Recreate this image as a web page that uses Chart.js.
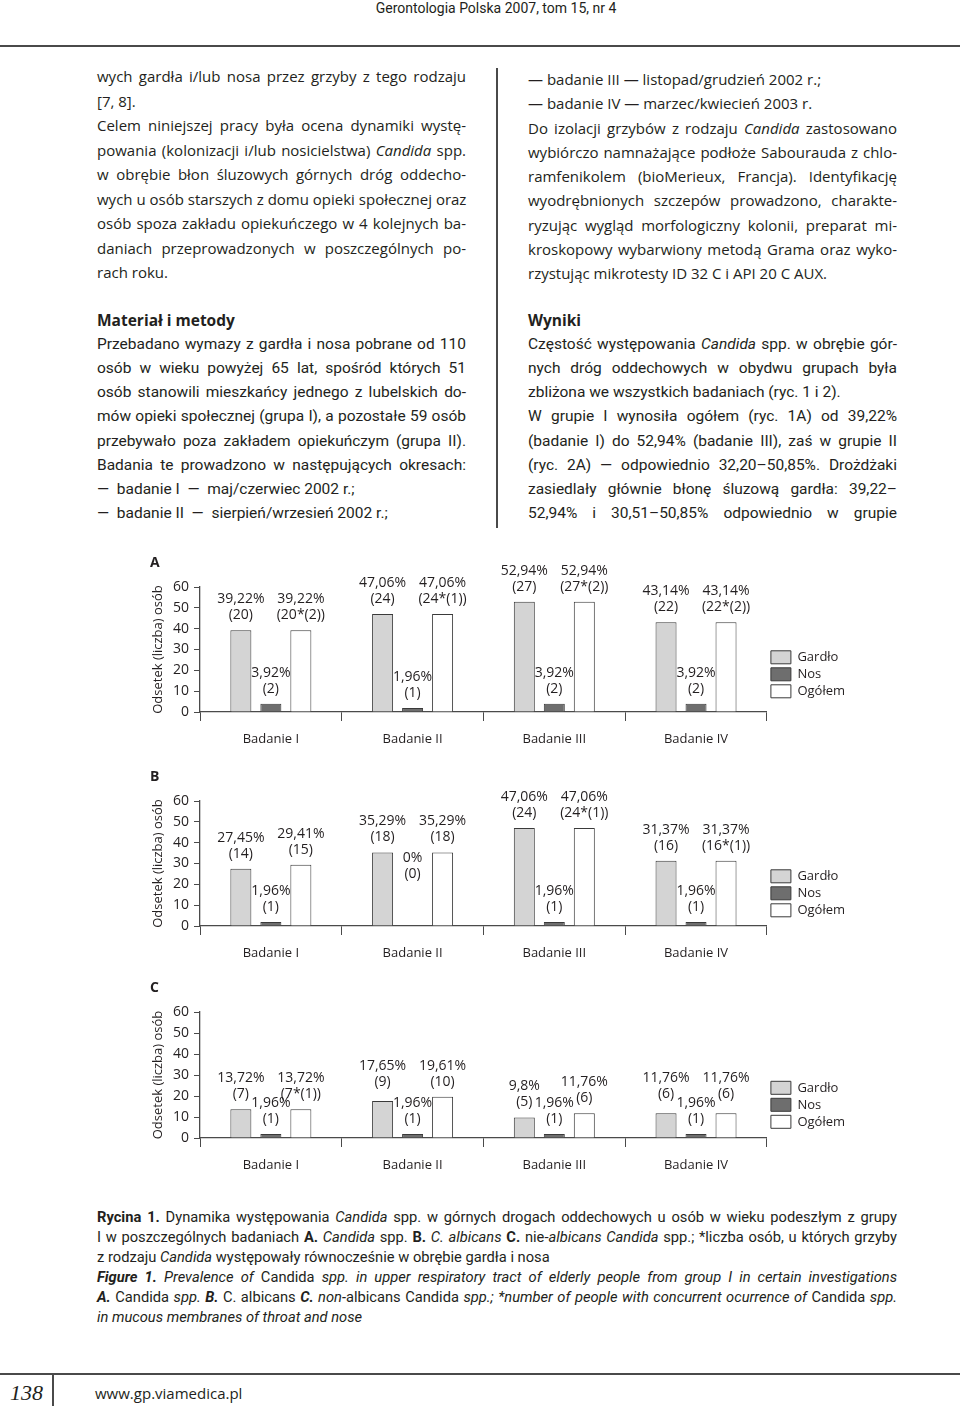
<!DOCTYPE html>
<html lang="pl">
<head>
<meta charset="utf-8">
<script src="https://cdn.jsdelivr.net/npm/chart.js@4.4.1/dist/chart.umd.min.js"></script>
<style>
  html, body { margin: 0; padding: 0; background: #fff; }
  body { width: 960px; height: 1410px; position: relative; overflow: hidden; color: #231f20; font-family: 'Open Sans', sans-serif; }
  .ln { position: absolute; white-space: nowrap; font-size: 15px; line-height: 20px; }
  .j { text-align: justify; text-align-last: justify; }
  .h { font-family: 'Open Sans', sans-serif; font-weight: 700; font-size: 15.5px; }
  .dol { font-family: Roboto, sans-serif; font-size: 15.5px; }
  .cap { font-family: Roboto, sans-serif; font-size: 14.7px; }
  canvas { position: absolute; left: 140px; }
  .rule { position: absolute; background: #4a4a4a; }
</style>
</head>
<body>
<div class="ln" style="left:0;width:992px;top:-2px;text-align:center;font-family:Roboto,sans-serif;font-size:14px;">Gerontologia Polska 2007, tom 15, nr 4</div>
<div class="rule" style="left:0;top:45px;width:960px;height:2px;"></div>
<div class="rule" style="left:496px;top:68px;width:1.5px;height:460px;"></div>
<div id="tekst"></div>

<canvas id="wykresA" width="716" height="211" style="top:548px"></canvas>
<canvas id="wykresB" width="716" height="211" style="top:762px"></canvas>
<canvas id="wykresC" width="716" height="212" style="top:973px"></canvas>

<div class="rule" style="left:0;top:1373px;width:960px;height:1.5px;"></div>
<div class="rule" style="left:52px;top:1374px;width:1.5px;height:32px;"></div>
<div class="ln" style="left:10px;top:1380px;font-family:'Liberation Serif',serif;font-style:italic;font-size:22px;line-height:26px;">138</div>
<div class="ln" style="left:95px;top:1383px;font-size:15px;">www.gp.viamedica.pl</div>

<script>
// ── Dane wykresów ───────────────────────────────────────────────
const badania = ['Badanie I', 'Badanie II', 'Badanie III', 'Badanie IV'];
const serie = ['Gardło', 'Nos', 'Ogółem'];
const osY = { min: 0, max: 60, krok: 10 };

// A. Candida spp.
const gardloA = [39.22, 47.06, 52.94, 43.14];
const nosA = [3.92, 1.96, 3.92, 3.92];
const ogolemA = [39.22, 47.06, 52.94, 43.14];
const gardloA_n = [20, 24, 27, 22];
const nosA_n = [2, 1, 2, 2];
const ogolemA_n = [20, 24, 27, 22];
const wspolneA = [2, 1, 2, 2];

// B. C. albicans
const gardloB = [27.45, 35.29, 47.06, 31.37];
const nosB = [1.96, 0, 1.96, 1.96];
const ogolemB = [29.41, 35.29, 47.06, 31.37];
const gardloB_n = [14, 18, 24, 16];
const nosB_n = [1, 0, 1, 1];
const ogolemB_n = [15, 18, 24, 16];
const wspolneB = [0, 0, 1, 1];

// C. nie-albicans Candida spp.
const gardloC = [13.72, 17.65, 9.8, 11.76];
const nosC = [1.96, 1.96, 1.96, 1.96];
const ogolemC = [13.72, 19.61, 11.76, 11.76];
const gardloC_n = [7, 9, 5, 6];
const nosC_n = [1, 1, 1, 1];
const ogolemC_n = [7, 10, 6, 6];
const wspolneC = [1, 0, 0, 0];

// ── Tekst strony ────────────────────────────────────────────────
const bloki = [
    { x: 97, w: 369, y: 76, krok: 24.5, linie: [
        ['wych gardła i/lub nosa przez grzyby z tego rodzaju', 1],
        ['[7, 8].', 0],
        ['Celem niniejszej pracy była ocena dynamiki wystę-', 1],
        ['powania (kolonizacji i/lub nosicielstwa) <i>Candida</i> spp.', 1],
        ['w obrębie błon śluzowych górnych dróg oddecho-', 1],
        ['wych u osób starszych z domu opieki społecznej oraz', 1],
        ['osób spoza zakładu opiekuńczego w 4 kolejnych ba-', 1],
        ['daniach przeprowadzonych w poszczególnych po-', 1],
        ['rach roku.', 0],
    ] },
    { x: 528, w: 369, y: 79, krok: 24.25, linie: [
        ['— badanie III — listopad/grudzień 2002 r.;', 0],
        ['— badanie IV — marzec/kwiecień 2003 r.', 0],
        ['Do izolacji grzybów z rodzaju <i>Candida</i> zastosowano', 1],
        ['wybiórczo namnażające podłoże Sabourauda z chlo-', 1],
        ['ramfenikolem (bioMerieux, Francja). Identyfikację', 1],
        ['wyodrębnionych szczepów prowadzono, charakte-', 1],
        ['ryzując wygląd morfologiczny kolonii, preparat mi-', 1],
        ['kroskopowy wybarwiony metodą Grama oraz wyko-', 1],
        ['rzystując mikrotesty ID 32 C i API 20 C AUX.', 0],
    ] },
    { x: 97, w: 369, y: 320, krok: 24.1, klasa: 'dol', linie: [
        ['<span class="h">Materiał i metody</span>', 0],
        ['Przebadano wymazy z gardła i nosa pobrane od 110', 1],
        ['osób w wieku powyżej 65 lat, spośród których 51', 1],
        ['osób stanowili mieszkańcy jednego z lubelskich do-', 1],
        ['mów opieki społecznej (grupa I), a pozostałe 59 osób', 1],
        ['przebywało poza zakładem opiekuńczym (grupa II).', 1],
        ['Badania te prowadzono w następujących okresach:', 1],
        ['—&nbsp; badanie I &nbsp;— &nbsp;maj/czerwiec 2002 r.;', 0],
        ['—&nbsp; badanie II &nbsp;— &nbsp;sierpień/wrzesień 2002 r.;', 0],
    ] },
    { x: 528, w: 369, y: 320, krok: 24.1, klasa: 'dol', linie: [
        ['<span class="h">Wyniki</span>', 0],
        ['Częstość występowania <i>Candida</i> spp. w obrębie gór-', 1],
        ['nych dróg oddechowych w obydwu grupach była', 1],
        ['zbliżona we wszystkich badaniach (ryc. 1 i 2).', 0],
        ['W grupie I wynosiła ogółem (ryc. 1A) od 39,22%', 1],
        ['(badanie I) do 52,94% (badanie III), zaś w grupie II', 1],
        ['(ryc. 2A) — odpowiednio 32,20–50,85%. Drożdżaki', 1],
        ['zasiedlały głównie błonę śluzową gardła: 39,22–', 1],
        ['52,94% i 30,51–50,85% odpowiednio w grupie', 1],
    ] },
    { x: 97, w: 800, y: 1217, krok: 20, klasa: 'cap', linie: [
        ['<b>Rycina 1.</b> Dynamika występowania <i>Candida</i> spp. w górnych drogach oddechowych u osób w wieku podeszłym z grupy', 1],
        ['I w poszczególnych badaniach <b>A.</b> <i>Candida</i> spp. <b>B.</b> <i>C. albicans</i> <b>C.</b> nie-<i>albicans Candida</i> spp.; *liczba osób, u których grzyby', 1],
        ['z rodzaju <i>Candida</i> występowały równocześnie w obrębie gardła i nosa', 0],
        ['<b><i>Figure 1.</i></b> <i>Prevalence of</i> Candida <i>spp. in upper respiratory tract of elderly people from group I in certain investigations</i>', 1],
        ['<b><i>A.</i></b> Candida <i>spp.</i> <b><i>B.</i></b> C. albicans <b><i>C.</i></b> <i>non-</i>albicans Candida <i>spp.; *number of people with concurrent ocurrence of</i> Candida <i>spp.</i>', 1],
        ['<i>in mucous membranes of throat and nose</i>', 0],
    ] },
];

const tekst = document.getElementById('tekst');
bloki.forEach((b) => {
    b.linie.forEach(([html, justuj], i) => {
        const d = document.createElement('div');
        d.className = 'ln' + (justuj ? ' j' : '') + (b.klasa ? ' ' + b.klasa : '');
        d.style.left = b.x + 'px';
        d.style.top = (b.y + i * b.krok - 10) + 'px';
        if (justuj) d.style.width = b.w + 'px';
        d.innerHTML = html;
        tekst.appendChild(d);
    });
});

// ── Wykresy ─────────────────────────────────────────────────────
const KOLOR = '#231f20';
const OS = '#4a4a4a';
Chart.defaults.font.family = "'Open Sans', sans-serif";
Chart.defaults.font.size = 13;
Chart.defaults.color = KOLOR;

const procent = (v) => String(v).replace('.', ',') + '%';

// etykiety nad słupkami: odsetek i liczba osób
const etykiety = {
    id: 'etykiety',
    afterDatasetsDraw(chart, args, opts) {
        const ctx = chart.ctx;
        ctx.save();
        ctx.font = "14px 'Open Sans'";
        ctx.fillStyle = KOLOR;
        ctx.textAlign = 'center';
        ctx.textBaseline = 'middle';
        chart.data.datasets.forEach((ds, di) => {
            chart.getDatasetMeta(di).data.forEach((bar, i) => {
                const dy = (opts.przesun && opts.przesun[di + '-' + i]) || 0;
                const y = bar.y + dy;
                ctx.fillText(procent(ds.data[i]), bar.x, y - 31);
                ctx.fillText(ds.liczby[i], bar.x, y - 15);
            });
        });
        ctx.restore();
    },
};

function wykres(id, litera, gardlo, nos, ogolem, nG, nN, nO, wspolne, opadLegendy, przesun) {
    const liczbyO = nO.map((n, i) => '(' + n + (wspolne[i] ? '*(' + wspolne[i] + ')' : '') + ')');
    const wspolny = { borderColor: '#3a3a3a', borderWidth: 1, categoryPercentage: 0.635, barPercentage: 0.7 };
    new Chart(document.getElementById(id), {
        type: 'bar',
        data: {
            labels: badania,
            datasets: [
                { ...wspolny, label: serie[0], data: gardlo, liczby: nG.map((n) => '(' + n + ')'), backgroundColor: '#d4d4d4' },
                { ...wspolny, label: serie[1], data: nos, liczby: nN.map((n) => '(' + n + ')'), backgroundColor: '#6e6e6e' },
                { ...wspolny, label: serie[2], data: ogolem, liczby: liczbyO, backgroundColor: '#ffffff' },
            ],
        },
        options: {
            responsive: false,
            animation: false,
            layout: { padding: { left: 10, right: 1, top: 0, bottom: 2.4 } },
            plugins: {
                title: {
                    display: true, text: litera, align: 'start', color: KOLOR,
                    font: { size: 14, weight: 'bold' }, padding: { top: 6.6, bottom: 15.6 },
                },
                legend: {
                    position: 'right',
                    title: { display: true, text: '', font: { size: 10 }, padding: { top: opadLegendy * 2 - 12, bottom: 0 } },
                    labels: { boxWidth: 20, boxHeight: 13, padding: 4, font: { size: 13 }, color: KOLOR },
                },
                tooltip: { enabled: false },
                etykiety: { przesun },
            },
            scales: {
                x: {
                    grid: { drawOnChartArea: false, tickLength: 9, color: OS, offset: true },
                    border: { color: OS, width: 1.3 },
                    ticks: { padding: 10, font: { size: 13 }, color: KOLOR },
                },
                y: {
                    min: osY.min, max: osY.max,
                    afterFit: (s) => { s.width = 50; },
                    ticks: { stepSize: osY.krok, autoSkip: false, padding: 5, font: { size: 14 }, color: KOLOR },
                    grid: { drawOnChartArea: false, tickLength: 6, color: OS },
                    border: { color: OS, width: 1.3 },
                    title: { display: true, text: 'Odsetek (liczba) osób', font: { size: 13 }, color: KOLOR, padding: 0 },
                },
            },
        },
        plugins: [etykiety],
    });
}

wykres('wykresA', 'A', gardloA, nosA, ogolemA, gardloA_n, nosA_n, ogolemA_n, wspolneA, 22, {});
wykres('wykresB', 'B', gardloB, nosB, ogolemB, gardloB_n, nosB_n, ogolemB_n, wspolneB, 27, { '1-1': -37 });
wykres('wykresC', 'C', gardloC, nosC, ogolemC, gardloC_n, nosC_n, ogolemC_n, wspolneC, 27, { '0-1': -4, '0-3': -4, '2-3': -4 });
</script>
</body>
</html>
